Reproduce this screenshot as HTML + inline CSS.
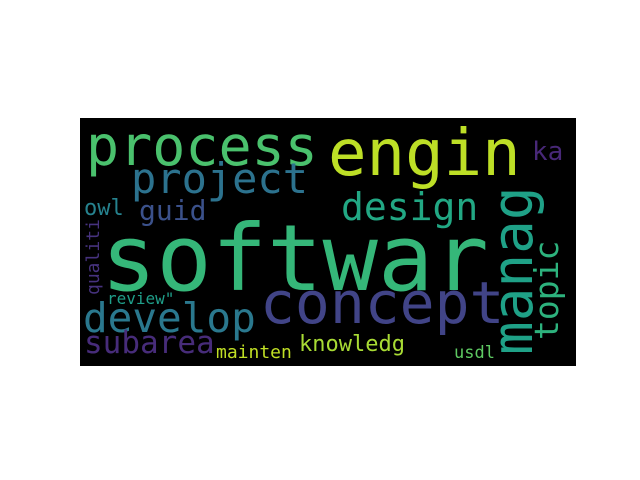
<!DOCTYPE html>
<html><head><meta charset="utf-8"><style>
html,body{margin:0;padding:0;background:#fff;width:640px;height:480px;overflow:hidden}
svg text{font-family:"DejaVu Sans Mono","Liberation Mono",monospace}
</style></head><body>
<svg width="640" height="480">
<rect x="80" y="118" width="496" height="248" fill="#000"/>
<g>
<text x="101" y="290" font-size="92" fill="#35b779">softwar</text>
<text x="86" y="165" font-size="55" fill="#4ac16d">process</text>
<text x="328" y="175" font-size="64" fill="#bddf26">engin</text>
<text x="532" y="160" font-size="26" fill="#482878">ka</text>
<text x="131" y="193" font-size="42" fill="#2c728e">project</text>
<text x="341" y="220" font-size="38" fill="#22a884">design</text>
<text transform="translate(532,355) rotate(-90)" font-size="56" fill="#1fa187">manag</text>
<text transform="translate(558,340) rotate(-90)" font-size="33" fill="#2db27d">topic</text>
<text x="260" y="323" font-size="58" fill="#414487">concept</text>
<text x="83" y="332" font-size="41" fill="#2a788e">develop</text>
<text x="139" y="220" font-size="28" fill="#3b518b">guid</text>
<text x="84" y="215" font-size="22" fill="#26828e">owl</text>
<text transform="translate(99,295) rotate(-90)" font-size="18" fill="#46327e">qualiti</text>
<text x="107" y="304" font-size="16" fill="#1f9e89">review"</text>
<text x="84" y="353" font-size="31" fill="#472c7a">subarea</text>
<text x="216" y="358" font-size="18" fill="#c0df25">mainten</text>
<text x="299" y="351" font-size="22" fill="#a8db34">knowledg</text>
<text x="454" y="358" font-size="17" fill="#5ec962">usdl</text>
</g>
</svg>
</body></html>
